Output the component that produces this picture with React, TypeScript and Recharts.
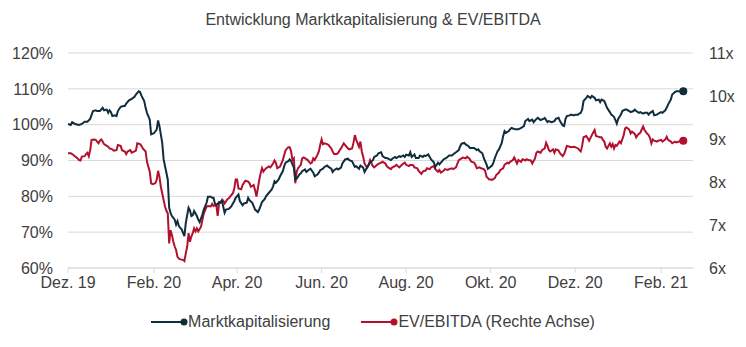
import React from "react";
import { LineChart, Line, XAxis, YAxis, CartesianGrid } from "recharts";

// x axis: days since 1 Dec 2019, labelled every two months
const monthTicks = [0, 62, 122, 183, 244, 305, 366, 428];
const monthLabels = ["Dez. 19", "Feb. 20", "Apr. 20", "Jun. 20", "Aug. 20", "Okt. 20", "Dez. 20", "Feb. 21"];

const pctTicks = [60, 70, 80, 90, 100, 110, 120];
const multTicks = [6, 7, 8, 9, 10, 11];

// Marktkapitalisierung (indexed, %)
const mcapDays = [
    0, 2, 3, 5, 8, 10, 12, 14, 16, 18,
    20, 21, 23, 25, 26, 28, 29, 30, 31, 32,
    34, 35, 36, 38, 40, 41, 42, 44, 46, 48,
    49, 51, 52, 53, 55, 56, 57, 59, 60, 62,
    64, 65, 66, 68, 69, 71, 72, 73, 74, 75,
    77, 78, 79, 80, 81, 82, 84, 85, 87, 88,
    89, 90, 91, 93, 94, 95, 97, 98, 100, 101,
    103, 104, 105, 106, 107, 109, 110, 111, 113, 114,
    116, 117, 118, 120, 121, 123, 124, 126, 127, 129,
    130, 131, 133, 135, 137, 138, 140, 142, 143, 145,
    147, 148, 149, 150, 152, 153, 155, 156, 157, 159,
    160, 161, 163, 164, 165, 167, 168, 169, 171, 172,
    174, 175, 177, 178, 180, 181, 182, 184, 185, 187,
    188, 190, 191, 192, 194, 195, 197, 198, 200, 202,
    203, 205, 207, 208, 210, 211, 213, 214, 216, 217,
    218, 220, 221, 223, 224, 226, 227, 229, 230, 231,
    233, 234, 236, 237, 239, 240, 242, 243, 244, 246,
    247, 248, 250, 251, 253, 254, 256, 257, 258, 260,
    262, 264, 265, 267, 268, 270, 271, 273, 275, 277,
    279, 280, 282, 283, 284, 286, 287, 289, 290, 292,
    293, 295, 296, 297, 299, 300, 302, 303, 304, 306,
    307, 308, 310, 311, 313, 314, 315, 316, 318, 319,
    320, 322, 323, 325, 327, 329, 330, 332, 333, 335,
    336, 338, 339, 341, 343, 344, 346, 347, 349, 351,
    352, 354, 355, 357, 358, 359, 360, 362, 363, 365,
    366, 368, 369, 370, 371, 372, 374, 375, 377, 378,
    380, 381, 383, 384, 385, 387, 389, 391, 392, 394,
    395, 396, 397, 399, 400, 402, 403, 405, 406, 408,
    409, 410, 412, 413, 415, 416, 418, 419, 420, 422,
    423, 425, 426, 428, 429, 431, 432, 433, 435, 436,
    438, 439, 441, 442, 444,
];
const mcapValues = [
    100.2, 99.9, 100.7, 100.2, 99.9, 100.2, 100.8, 100.8, 101.6, 103.8,
    104.0, 103.8, 103.8, 104.7, 104.0, 104.2, 103.3, 104.0, 103.5, 102.4,
    102.6, 102.4, 103.8, 105.0, 105.2, 105.2, 105.9, 106.8, 107.2, 107.8,
    108.4, 109.3, 109.1, 108.1, 106.6, 104.7, 103.3, 101.4, 97.3, 97.6,
    98.6, 101.2, 99.6, 94.9, 90.3, 86.6, 84.7, 76.8, 75.4, 74.5,
    73.5, 72.1, 73.1, 71.7, 71.2, 70.8, 68.9, 72.6, 76.8, 76.1,
    74.5, 74.7, 75.9, 74.5, 73.5, 72.8, 74.9, 76.3, 78.2, 79.9,
    79.9, 79.6, 79.6, 78.0, 77.5, 78.4, 78.2, 78.9, 75.4, 76.3,
    76.5, 76.8, 77.3, 78.7, 79.6, 80.5, 78.7, 77.5, 78.0, 78.2,
    79.6, 78.9, 78.2, 76.3, 75.6, 76.3, 78.4, 79.3, 80.1, 81.0,
    81.9, 82.8, 84.2, 83.8, 84.7, 85.6, 87.0, 88.4, 89.4, 89.8,
    90.3, 89.8, 88.0, 84.7, 84.9, 86.1, 86.4, 87.0, 87.5, 86.8,
    87.5, 87.7, 86.6, 85.6, 86.1, 86.6, 87.3, 87.7, 88.2, 88.6,
    88.2, 87.7, 86.8, 87.3, 87.8, 87.5, 88.0, 89.2, 90.3, 90.5,
    90.1, 89.8, 88.2, 88.4, 87.7, 88.6, 88.0, 86.8, 88.2, 88.9,
    89.4, 90.1, 91.0, 91.4, 92.0, 92.3, 91.2, 90.7, 90.7, 90.5,
    90.1, 90.5, 91.0, 90.7, 91.2, 91.0, 91.4, 91.0, 91.6, 91.4,
    92.3, 91.0, 91.7, 90.7, 90.7, 91.4, 91.0, 91.4, 91.2, 91.7,
    90.3, 89.5, 88.2, 89.4, 88.9, 89.8, 90.3, 90.7, 91.4, 91.4,
    92.0, 92.3, 92.9, 94.0, 94.7, 94.9, 94.5, 94.0, 93.5, 93.5,
    93.5, 92.9, 93.1, 92.6, 92.0, 90.7, 88.9, 87.7, 88.0, 88.6,
    89.4, 90.7, 92.6, 93.1, 94.9, 96.8, 98.2, 97.7, 98.2, 98.7,
    99.1, 98.8, 98.7, 98.7, 99.1, 99.6, 101.0, 101.6, 101.0, 101.4,
    100.7, 101.6, 101.9, 101.3, 101.6, 101.9, 100.7, 101.0, 100.7, 101.0,
    101.6, 101.9, 101.0, 99.8, 99.6, 101.6, 102.4, 102.6, 102.8, 102.6,
    102.8, 102.8, 103.1, 103.3, 104.2, 106.6, 107.5, 108.0, 107.4, 108.0,
    107.5, 106.8, 107.0, 106.3, 107.0, 106.6, 104.7, 103.5, 102.8, 102.2,
    101.3, 100.3, 101.6, 102.8, 103.8, 104.2, 104.2, 103.8, 103.5, 103.8,
    104.2, 103.8, 103.3, 103.5, 103.1, 103.3, 103.3, 102.8, 103.3, 103.8,
    102.6, 102.8, 103.1, 103.5, 103.3, 104.0, 104.7, 105.6, 107.0, 108.4,
    109.1, 109.3, 109.3, 109.3, 109.3,
];

// EV/EBITDA multiple (right axis, x)
const evDays = [
    0, 2, 3, 5, 7, 8, 9, 10, 12, 13,
    14, 15, 16, 17, 19, 20, 22, 23, 24, 25,
    26, 28, 29, 30, 32, 33, 35, 36, 38, 39,
    41, 42, 43, 45, 46, 48, 49, 50, 52, 53,
    54, 56, 57, 59, 60, 61, 63, 64, 65, 66,
    67, 69, 70, 71, 72, 73, 74, 75, 76, 77,
    78, 79, 80, 81, 83, 84, 85, 86, 87, 88,
    89, 90, 91, 92, 93, 94, 96, 97, 98, 100,
    101, 103, 104, 105, 107, 108, 109, 110, 112, 113,
    115, 116, 117, 119, 120, 121, 122, 123, 125, 126,
    128, 130, 131, 132, 134, 135, 136, 137, 138, 139,
    140, 141, 142, 143, 145, 146, 148, 149, 150, 151,
    153, 154, 155, 156, 157, 159, 160, 161, 162, 163,
    164, 165, 166, 168, 169, 170, 172, 173, 175, 176,
    177, 178, 180, 181, 182, 183, 184, 185, 187, 188,
    190, 191, 192, 194, 195, 196, 197, 199, 200, 202,
    203, 205, 206, 207, 208, 210, 211, 212, 213, 214,
    215, 216, 217, 218, 220, 221, 223, 224, 226, 227,
    229, 230, 231, 233, 234, 236, 237, 239, 240, 242,
    243, 244, 246, 247, 249, 250, 252, 253, 255, 256,
    257, 258, 259, 261, 262, 264, 265, 267, 268, 269,
    271, 272, 274, 275, 277, 278, 280, 281, 282, 284,
    285, 287, 288, 290, 291, 293, 294, 295, 297, 298,
    300, 301, 302, 304, 305, 306, 308, 309, 311, 312,
    314, 315, 317, 318, 319, 321, 322, 324, 325, 327,
    328, 330, 331, 332, 334, 335, 337, 338, 339, 341,
    342, 344, 345, 346, 347, 348, 350, 351, 352, 354,
    355, 357, 358, 359, 360, 362, 363, 365, 366, 368,
    369, 370, 371, 372, 374, 375, 376, 378, 379, 380,
    381, 383, 384, 385, 386, 387, 388, 389, 391, 392,
    393, 394, 395, 396, 398, 399, 401, 402, 403, 405,
    406, 407, 409, 410, 411, 413, 414, 415, 416, 418,
    419, 420, 421, 422, 423, 425, 426, 428, 429, 431,
    432, 433, 435, 436, 438, 439, 441, 442, 444,
];
const evValues = [
    8.67, 8.67, 8.65, 8.60, 8.55, 8.51, 8.50, 8.59, 8.60, 8.65,
    8.68, 8.60, 8.74, 8.98, 8.99, 8.98, 8.90, 8.96, 8.99, 8.94,
    8.88, 8.84, 8.82, 8.78, 8.76, 8.73, 8.74, 8.86, 8.84, 8.74,
    8.71, 8.65, 8.71, 8.74, 8.68, 8.71, 8.73, 8.90, 8.88, 8.84,
    8.78, 8.71, 8.47, 8.24, 7.97, 7.95, 7.97, 8.05, 8.26, 8.12,
    7.89, 7.58, 7.43, 7.33, 7.27, 6.57, 6.88, 6.77, 6.61, 6.50,
    6.42, 6.26, 6.22, 6.20, 6.19, 6.16, 6.34, 6.50, 6.81, 6.61,
    6.73, 6.81, 6.92, 6.85, 6.92, 6.85, 6.96, 7.12, 7.27, 7.43,
    7.44, 7.43, 7.49, 7.44, 7.47, 7.21, 7.49, 7.54, 7.57, 7.50,
    7.60, 7.62, 7.66, 7.74, 7.85, 8.06, 8.06, 7.85, 7.83, 7.93,
    8.03, 8.01, 7.97, 7.89, 7.93, 7.81, 7.66, 7.85, 8.05, 8.20,
    8.32, 8.24, 8.29, 8.32, 8.36, 8.34, 8.43, 8.50, 8.45, 8.32,
    8.36, 8.43, 8.51, 8.63, 8.74, 8.81, 8.81, 8.71, 8.51, 8.55,
    7.97, 8.24, 8.32, 8.40, 8.55, 8.57, 8.53, 8.51, 8.43, 8.45,
    8.55, 8.51, 8.63, 8.71, 8.86, 8.99, 8.88, 8.90, 8.88, 8.86,
    8.78, 8.71, 8.65, 8.65, 8.68, 8.74, 8.78, 8.90, 8.86, 8.78,
    8.76, 8.78, 8.91, 9.09, 8.98, 8.82, 8.94, 8.71, 8.59, 8.43,
    8.37, 8.34, 8.40, 8.51, 8.37, 8.34, 8.40, 8.42, 8.45, 8.47,
    8.43, 8.37, 8.34, 8.30, 8.34, 8.37, 8.40, 8.34, 8.37, 8.43,
    8.45, 8.40, 8.37, 8.40, 8.39, 8.34, 8.32, 8.26, 8.19, 8.24,
    8.26, 8.26, 8.32, 8.30, 8.34, 8.37, 8.30, 8.24, 8.28, 8.22,
    8.26, 8.30, 8.28, 8.30, 8.32, 8.30, 8.34, 8.43, 8.51, 8.55,
    8.57, 8.55, 8.59, 8.53, 8.47, 8.45, 8.40, 8.32, 8.34, 8.32,
    8.30, 8.26, 8.12, 8.06, 8.06, 8.05, 8.09, 8.16, 8.22, 8.28,
    8.32, 8.40, 8.45, 8.43, 8.47, 8.51, 8.57, 8.43, 8.51, 8.47,
    8.53, 8.50, 8.53, 8.51, 8.50, 8.43, 8.55, 8.68, 8.71, 8.68,
    8.74, 8.78, 8.91, 8.84, 8.74, 8.71, 8.76, 8.68, 8.76, 8.73,
    8.67, 8.60, 8.65, 8.74, 8.84, 8.82, 8.81, 8.82, 8.81, 8.78,
    8.74, 8.71, 8.84, 9.04, 9.07, 9.02, 8.96, 9.09, 9.15, 9.21,
    9.07, 9.05, 9.04, 9.04, 8.98, 8.94, 8.82, 8.78, 8.90, 8.82,
    8.88, 8.78, 8.86, 8.84, 8.94, 8.90, 9.09, 9.25, 9.27, 9.22,
    9.13, 9.17, 9.12, 9.04, 9.09, 9.15, 9.22, 9.29, 9.21, 9.12,
    9.09, 9.02, 8.90, 8.99, 8.96, 8.94, 8.96, 8.98, 8.94, 8.99,
    9.05, 8.98, 8.94, 8.90, 8.94, 8.92, 8.94, 8.96, 8.96,
];

const MCAP_COLOR = "#0f2d3d";
const EV_COLOR = "#b3102f";
const GRID = "#d9d9d9";
const TEXT = "#404040";
const FONT = '"Liberation Sans", Arial, sans-serif';

const mcapData = mcapDays.map((day, i) => ({ day, value: mcapValues[i] }));
const evData = evDays.map((day, i) => ({ day, value: evValues[i] }));

// only the last point of each line gets a marker
const endDot = (color: string, count: number) => (props: any) => {
    const { cx, cy, index } = props;
    if (index !== count - 1) return <g key={`d-${index}`} />;
    return <circle key={`d-${index}`} cx={cx} cy={cy} r={4} fill={color} stroke="none" />;
};

const legendItems = [
    { label: "Marktkapitalisierung", color: MCAP_COLOR },
    { label: "EV/EBITDA (Rechte Achse)", color: EV_COLOR },
];

export default function App() {
    return (
        <div style={{ position: "relative", width: 746, height: 347, fontFamily: FONT, color: TEXT, background: "#fff" }}>
            <style>{"body{margin:0}"}</style>
            <div style={{ position: "absolute", top: 10, left: 0, width: 746, textAlign: "center", fontSize: 16, lineHeight: "20px" }}>
                Entwicklung Marktkapitalisierung &amp; EV/EBITDA
            </div>
            <LineChart width={746} height={347} margin={{ top: 53, right: 8, bottom: 49, left: 8 }}>
                <CartesianGrid vertical={false} stroke={GRID} yAxisId="pct" />
                <XAxis
                    type="number"
                    dataKey="day"
                    domain={[0, 451]}
                    ticks={monthTicks}
                    interval={0}
                    tickFormatter={(d: number) => monthLabels[monthTicks.indexOf(d)]}
                    axisLine={{ stroke: GRID }}
                    tickLine={{ stroke: GRID }}
                    tickSize={5}
                    tickMargin={4}
                    height={30}
                    tick={{ fill: TEXT, fontSize: 16 }}
                />
                <YAxis
                    yAxisId="pct"
                    domain={[60, 120]}
                    ticks={pctTicks}
                    interval={0}
                    tickFormatter={(v: number) => `${v}%`}
                    axisLine={false}
                    tickLine={false}
                    tickMargin={9}
                    width={60}
                    tick={{ fill: TEXT, fontSize: 16 }}
                />
                <YAxis
                    yAxisId="mult"
                    orientation="right"
                    domain={[6, 11]}
                    ticks={multTicks}
                    interval={0}
                    tickFormatter={(v: number) => `${v}x`}
                    axisLine={false}
                    tickLine={false}
                    tickMargin={10}
                    width={45}
                    tick={{ fill: TEXT, fontSize: 16 }}
                />
                <Line
                    yAxisId="mult"
                    data={evData}
                    dataKey="value"
                    type="linear"
                    stroke={EV_COLOR}
                    strokeWidth={2}
                    dot={endDot(EV_COLOR, evData.length)}
                    activeDot={false}
                    isAnimationActive={false}
                />
                <Line
                    yAxisId="pct"
                    data={mcapData}
                    dataKey="value"
                    type="linear"
                    stroke={MCAP_COLOR}
                    strokeWidth={2}
                    dot={endDot(MCAP_COLOR, mcapData.length)}
                    activeDot={false}
                    isAnimationActive={false}
                />
            </LineChart>
            {/* legend below the axis */}
            <div style={{ position: "absolute", top: 312, left: 0, width: 746, display: "flex", justifyContent: "center", gap: 31, fontSize: 16, lineHeight: "20px" }}>
                {legendItems.map((item) => (
                    <div key={item.label} style={{ display: "flex", alignItems: "center" }}>
                        <svg width={37} height={20}>
                            <line x1={0} y1={10} x2={33} y2={10} stroke={item.color} strokeWidth={2} />
                            <circle cx={33} cy={10} r={3.5} fill={item.color} />
                        </svg>
                        <span>{item.label}</span>
                    </div>
                ))}
            </div>
        </div>
    );
}
